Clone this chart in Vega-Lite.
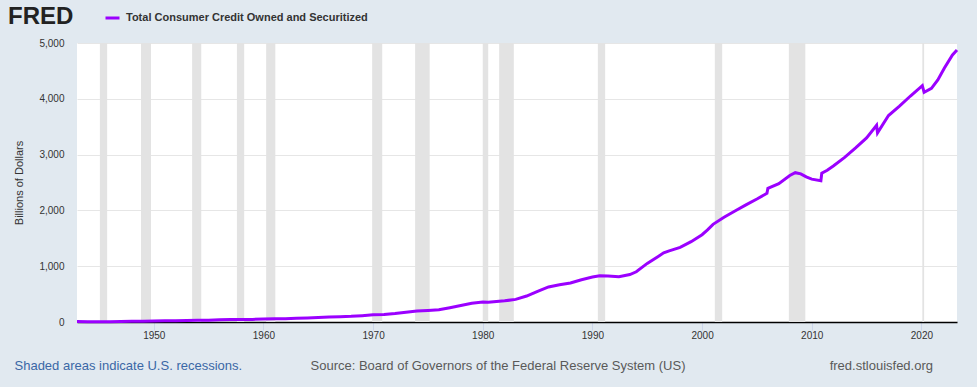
{
  "$schema": "https://vega.github.io/schema/vega-lite/v6.json",
  "width": 880,
  "height": 279,
  "autosize": "none",
  "padding": {"left": 77, "top": 43, "right": 20, "bottom": 65},
  "background": "#e1e9f0",
  "config": {
    "view": {"fill": "white", "stroke": null},
    "font": "Liberation Sans"
  },
  "title": {
    "text": "fred.stlouisfed.org",
    "orient": "bottom",
    "anchor": "end",
    "frame": "group",
    "fontSize": 13,
    "fontWeight": "normal",
    "color": "#595959",
    "offset": 0,
    "dx": -24,
    "dy": -12
  },
  "datasets": {
    "recessions": [
      {"start": "1945-02-01", "end": "1945-10-01"},
      {"start": "1948-11-01", "end": "1949-10-01"},
      {"start": "1953-07-01", "end": "1954-05-01"},
      {"start": "1957-08-01", "end": "1958-04-01"},
      {"start": "1960-04-01", "end": "1961-02-01"},
      {"start": "1969-12-01", "end": "1970-11-01"},
      {"start": "1973-11-01", "end": "1975-03-01"},
      {"start": "1980-01-01", "end": "1980-07-01"},
      {"start": "1981-07-01", "end": "1982-11-01"},
      {"start": "1990-07-01", "end": "1991-03-01"},
      {"start": "2001-03-01", "end": "2001-11-01"},
      {"start": "2007-12-01", "end": "2009-06-01"},
      {"start": "2020-02-01", "end": "2020-04-01"}
    ],
    "credit": [
      {"date": "1943-01-01", "value": 6.9},
      {"date": "1944-01-01", "value": 5.2},
      {"date": "1945-01-01", "value": 5.5},
      {"date": "1946-01-01", "value": 6.2},
      {"date": "1947-01-01", "value": 9.0},
      {"date": "1948-01-01", "value": 12.5},
      {"date": "1949-01-01", "value": 15.0},
      {"date": "1950-01-01", "value": 18.5},
      {"date": "1951-01-01", "value": 21.5},
      {"date": "1952-01-01", "value": 22.5},
      {"date": "1953-01-01", "value": 28.0},
      {"date": "1954-01-01", "value": 31.0},
      {"date": "1955-01-01", "value": 33.0},
      {"date": "1956-01-01", "value": 40.0},
      {"date": "1957-01-01", "value": 43.5},
      {"date": "1958-01-01", "value": 45.0},
      {"date": "1959-01-01", "value": 47.0},
      {"date": "1960-01-01", "value": 53.0},
      {"date": "1961-01-01", "value": 56.5},
      {"date": "1962-01-01", "value": 58.5},
      {"date": "1963-01-01", "value": 65.0},
      {"date": "1964-01-01", "value": 72.0},
      {"date": "1965-01-01", "value": 81.0},
      {"date": "1966-01-01", "value": 90.0},
      {"date": "1967-01-01", "value": 96.0},
      {"date": "1968-01-01", "value": 101.0},
      {"date": "1969-01-01", "value": 114.0},
      {"date": "1970-01-01", "value": 128.0},
      {"date": "1971-01-01", "value": 136.0},
      {"date": "1972-01-01", "value": 152.0},
      {"date": "1973-01-01", "value": 175.0},
      {"date": "1974-01-01", "value": 195.0},
      {"date": "1975-01-01", "value": 205.0},
      {"date": "1976-01-01", "value": 218.0},
      {"date": "1977-01-01", "value": 255.0},
      {"date": "1978-01-01", "value": 295.0},
      {"date": "1979-01-01", "value": 335.0},
      {"date": "1980-01-01", "value": 360.0},
      {"date": "1980-07-01", "value": 352.0},
      {"date": "1981-01-01", "value": 362.0},
      {"date": "1982-01-01", "value": 380.0},
      {"date": "1983-01-01", "value": 405.0},
      {"date": "1984-01-01", "value": 465.0},
      {"date": "1985-01-01", "value": 548.0},
      {"date": "1986-01-01", "value": 628.0},
      {"date": "1987-01-01", "value": 668.0},
      {"date": "1988-01-01", "value": 700.0},
      {"date": "1989-01-01", "value": 758.0},
      {"date": "1990-01-01", "value": 805.0},
      {"date": "1990-09-01", "value": 830.0},
      {"date": "1991-06-01", "value": 825.0},
      {"date": "1992-06-01", "value": 812.0},
      {"date": "1993-06-01", "value": 850.0},
      {"date": "1994-01-01", "value": 900.0},
      {"date": "1995-01-01", "value": 1050.0},
      {"date": "1996-01-01", "value": 1175.0},
      {"date": "1996-07-01", "value": 1240.0},
      {"date": "1997-01-01", "value": 1275.0},
      {"date": "1998-01-01", "value": 1338.0},
      {"date": "1999-01-01", "value": 1440.0},
      {"date": "2000-01-01", "value": 1565.0},
      {"date": "2000-07-01", "value": 1650.0},
      {"date": "2001-01-01", "value": 1750.0},
      {"date": "2002-01-01", "value": 1876.0},
      {"date": "2003-01-01", "value": 1990.0},
      {"date": "2004-01-01", "value": 2100.0},
      {"date": "2005-01-01", "value": 2205.0},
      {"date": "2005-12-01", "value": 2306.0},
      {"date": "2006-01-01", "value": 2396.0},
      {"date": "2007-01-01", "value": 2480.0},
      {"date": "2008-01-01", "value": 2625.0},
      {"date": "2008-07-01", "value": 2676.0},
      {"date": "2009-01-01", "value": 2655.0},
      {"date": "2009-07-01", "value": 2600.0},
      {"date": "2010-01-01", "value": 2560.0},
      {"date": "2010-11-01", "value": 2532.0},
      {"date": "2010-12-01", "value": 2665.0},
      {"date": "2011-06-01", "value": 2720.0},
      {"date": "2012-01-01", "value": 2800.0},
      {"date": "2013-01-01", "value": 2950.0},
      {"date": "2014-01-01", "value": 3120.0},
      {"date": "2015-01-01", "value": 3300.0},
      {"date": "2015-12-01", "value": 3525.0},
      {"date": "2016-01-01", "value": 3390.0},
      {"date": "2017-01-01", "value": 3700.0},
      {"date": "2018-01-01", "value": 3870.0},
      {"date": "2019-01-01", "value": 4050.0},
      {"date": "2020-02-01", "value": 4235.0},
      {"date": "2020-04-01", "value": 4116.0},
      {"date": "2020-12-01", "value": 4188.0},
      {"date": "2021-07-01", "value": 4337.0},
      {"date": "2022-02-01", "value": 4546.0},
      {"date": "2022-11-01", "value": 4785.0},
      {"date": "2023-04-01", "value": 4875.0}
    ]
  },
  "resolve": {"axis": {"x": "independent"}},
  "layer": [
    {
      "data": {"name": "recessions"},
      "mark": {"type": "rect", "color": "#e3e3e3"},
      "encoding": {
        "x": {
          "field": "start",
          "type": "temporal",
          "scale": {"domain": ["1943-01-01", "2023-04-01"]},
          "axis": {
            "orient": "bottom",
            "title": "Shaded areas indicate U.S. recessions.",
            "labels": false,
            "ticks": false,
            "domain": false,
            "grid": false,
            "titleX": -63,
            "titleY": 43,
            "titleAlign": "left",
            "titleAnchor": null,
            "titleBaseline": "middle",
            "titleColor": "#3a67a6",
            "titleFontSize": 13,
            "titleFontWeight": "normal"
          }
        },
        "x2": {"field": "end"}
      }
    },
    {
      "data": {"name": "credit"},
      "mark": {"type": "line", "strokeWidth": 3, "interpolate": "linear"},
      "encoding": {
        "x": {
          "field": "date",
          "type": "temporal",
          "axis": {
            "orient": "bottom",
            "format": "%Y",
            "tickCount": {"interval": "year", "step": 10},
            "labelFontSize": 10,
            "labelColor": "#333333",
            "labelPadding": 0,
            "tickSize": 8,
            "tickColor": "#ccd6eb",
            "domainColor": "#000000",
            "domainWidth": 1.5,
            "grid": false,
            "title": "Source: Board of Governors of the Federal Reserve System (US)",
            "titleX": 233,
            "titleY": 43,
            "titleAlign": "left",
            "titleAnchor": null,
            "titleBaseline": "middle",
            "titleColor": "#595959",
            "titleFontSize": 13,
            "titleFontWeight": "normal"
          }
        },
        "y": {
          "field": "value",
          "type": "quantitative",
          "scale": {"domain": [0, 5000], "nice": false},
          "axis": {
            "values": [0, 1000, 2000, 3000, 4000, 5000],
            "format": ",d",
            "grid": true,
            "gridColor": "#e6e6e6",
            "domain": false,
            "ticks": false,
            "labelPadding": 13,
            "labelFontSize": 10,
            "labelColor": "#333333",
            "title": "Billions of Dollars",
            "titleFontSize": 11,
            "titleFontWeight": "normal",
            "titleColor": "#333333",
            "titlePadding": 14
          }
        },
        "color": {
          "datum": "Total Consumer Credit Owned and Securitized",
          "type": "nominal",
          "scale": {"range": ["#9b00ff"]},
          "legend": {
            "orient": "none",
            "legendX": -69,
            "legendY": -33.5,
            "title": "FRED",
            "titleOrient": "left",
            "titleAnchor": "middle",
            "titleFontSize": 24,
            "titleFontWeight": 900,
            "titleColor": "#222222",
            "titlePadding": 30,
            "symbolType": "stroke",
            "symbolStrokeWidth": 3,
            "symbolSize": 196,
            "labelFontSize": 11,
            "labelFontWeight": "bold",
            "labelColor": "#333333",
            "labelLimit": 0,
            "labelOffset": 5,
            "padding": 0
          }
        }
      }
    }
  ]
}
